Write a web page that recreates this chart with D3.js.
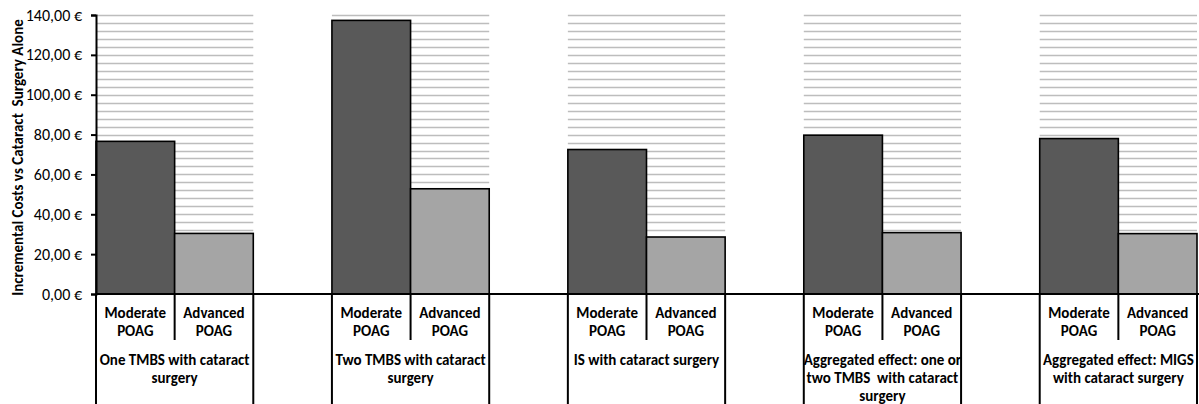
<!DOCTYPE html>
<html>
<head>
<meta charset="utf-8">
<script src="https://cdn.jsdelivr.net/npm/d3@7"></script>
<style>
  html, body { margin: 0; padding: 0; background: #fff; }
  svg { display: block; }
  text { font-family: Carlito, Lato, "Open Sans", sans-serif; fill: #000; white-space: pre; }
</style>
</head>
<body>
<svg id="chart" width="1199" height="404"></svg>
<script>
// ---- data ----
const groups = [
  "One TMBS with cataract\nsurgery",
  "Two TMBS with cataract\nsurgery",
  "IS with cataract surgery",
  "Aggregated effect: one or\ntwo TMBS  with cataract\nsurgery",
  "Aggregated effect: MIGS\nwith cataract surgery"
];
const seriesNames = ["Moderate\nPOAG", "Advanced\nPOAG"];
const moderateValues = [76.6, 137.3, 72.5, 79.7, 78.0];
const advancedValues = [30.4, 52.8, 28.6, 30.8, 30.3];
const yTicks = [0, 20, 40, 60, 80, 100, 120, 140];
const yTitle = "Incremental Costs vs Cataract  Surgery Alone";

// ---- layout ----
const svg = d3.select("#chart");
const plotL = 96, plotR = 1197, plotT = 15, plotB = 294, pageB = 404;
const colors = ["#595959", "#a5a5a5"];

const x0 = d3.scaleBand().domain(groups).range([plotL, plotR]).paddingInner(1/3).paddingOuter(0);
const x1 = d3.scaleBand().domain(seriesNames).range([0, x0.bandwidth()]).padding(0);
const y = d3.scaleLinear().domain([0, 140]).range([plotB, plotT]);

const fmt = v => d3.format(".2f")(v).replace(".", ",") + " €";

// gridlines (minor, every 4) within each group
const gridVals = d3.range(4, 141, 4);
const gridG = svg.append("g");
groups.forEach(g => {
  gridG.selectAll(null).data(gridVals).join("line")
    .attr("x1", x0(g)).attr("x2", x0(g) + x0.bandwidth())
    .attr("y1", d => Math.round(y(d)) + 0.5).attr("y2", d => Math.round(y(d)) + 0.5)
    .attr("stroke", "#bdbdbd").attr("stroke-width", 1.5);
});

// bars
const series = [moderateValues, advancedValues];
groups.forEach((g, gi) => {
  seriesNames.forEach((s, si) => {
    const v = series[si][gi];
    svg.append("rect")
      .attr("x", x0(g) + x1(s))
      .attr("y", y(v))
      .attr("width", x1.bandwidth())
      .attr("height", y(0) - y(v))
      .attr("fill", colors[si])
      .attr("stroke", "#000").attr("stroke-width", 1.6);
  });
});

// y axis
const yAxis = d3.axisLeft(y).tickValues(yTicks).tickFormat(fmt).tickSize(5).tickPadding(9);
const yg = svg.append("g").attr("transform", `translate(${plotL},0)`).call(yAxis);
yg.attr("font-size", 16).attr("font-family", null);
yg.select(".domain").attr("stroke", "#000").attr("stroke-width", 2);
yg.selectAll(".tick line").attr("stroke", "#000").attr("stroke-width", 2);
yg.selectAll(".tick text").attr("fill", "#000");

// y title
svg.append("text")
  .attr("transform", `translate(23,${(plotT + plotB) / 2 + 3}) rotate(-90)`)
  .attr("text-anchor", "middle")
  .attr("font-size", 15).attr("font-weight", "bold")
  .text(yTitle);

// x axis baseline
svg.append("line").attr("x1", plotL).attr("x2", 1199).attr("y1", plotB).attr("y2", plotB)
  .attr("stroke", "#000").attr("stroke-width", 2);

// category separators and labels
const sep = svg.append("g").attr("stroke", "#000").attr("stroke-width", 2);
groups.forEach(g => {
  const gx = x0(g), gw = x0.bandwidth();
  sep.append("line").attr("x1", gx).attr("x2", gx).attr("y1", plotB).attr("y2", pageB);
  sep.append("line").attr("x1", gx + gw).attr("x2", gx + gw).attr("y1", plotB).attr("y2", pageB);
  sep.append("line").attr("x1", gx + x1(seriesNames[1])).attr("x2", gx + x1(seriesNames[1]))
    .attr("y1", plotB).attr("y2", 340);

  seriesNames.forEach(s => {
    const t = svg.append("text").attr("text-anchor", "middle")
      .attr("font-size", 15).attr("font-weight", "bold");
    s.split("\n").forEach((line, i) => {
      t.append("tspan").attr("x", gx + x1(s) + x1.bandwidth() / 2)
        .attr("y", 318 + i * 18).text(line);
    });
  });

  const t2 = svg.append("text").attr("text-anchor", "middle")
    .attr("font-size", 15).attr("font-weight", "bold");
  g.split("\n").forEach((line, i) => {
    t2.append("tspan").attr("x", gx + gw / 2).attr("y", 365 + i * 18).text(line);
  });
});
</script>
</body>
</html>
